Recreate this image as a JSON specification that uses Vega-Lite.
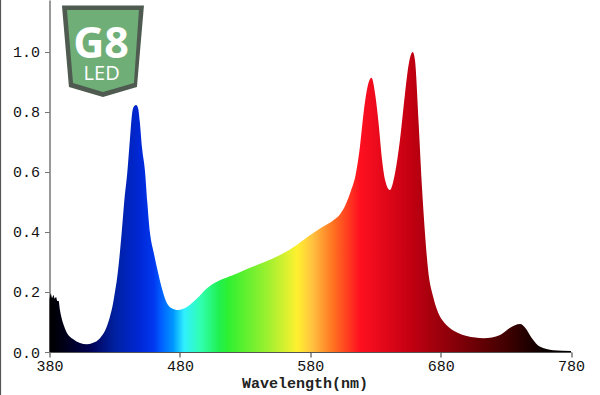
{
"$schema":"https://vega.github.io/schema/vega-lite/v6.json",
"width":521.5,"height":352,
"autosize":{"type":"none"},
"padding":{"left":49.5,"top":0,"right":29,"bottom":43},
"background":"white",
"config":{"view":{"stroke":null}},
"datasets":{
"spectrum":[
{"nm":380,"v":0.175},{"nm":381,"v":0.195},{"nm":382,"v":0.18},{"nm":383,"v":0.19},{"nm":384,"v":0.178},{"nm":385,"v":0.183},{"nm":386,"v":0.17},{"nm":387,"v":0.17},{"nm":388,"v":0.14},{"nm":389,"v":0.118},{"nm":391,"v":0.088},{"nm":393,"v":0.067},{"nm":398,"v":0.043},{"nm":403.4,"v":0.03},{"nm":408.6,"v":0.026},{"nm":413,"v":0.03},{"nm":418.7,"v":0.046},{"nm":423.9,"v":0.084},{"nm":426.4,"v":0.118},{"nm":428.8,"v":0.163},{"nm":430.2,"v":0.2},{"nm":431.5,"v":0.235},{"nm":433.5,"v":0.31},{"nm":435.4,"v":0.4},{"nm":437.5,"v":0.51},{"nm":439.7,"v":0.6},{"nm":441.7,"v":0.71},{"nm":443.5,"v":0.8},{"nm":445,"v":0.82},{"nm":446.4,"v":0.823},{"nm":448,"v":0.812},{"nm":449.2,"v":0.77},{"nm":451,"v":0.68},{"nm":453.3,"v":0.6},{"nm":455,"v":0.5},{"nm":457,"v":0.4},{"nm":460,"v":0.33},{"nm":463,"v":0.27},{"nm":467,"v":0.2},{"nm":470,"v":0.163},{"nm":473.7,"v":0.146},{"nm":478.7,"v":0.14},{"nm":482,"v":0.143},{"nm":486,"v":0.152},{"nm":493,"v":0.178},{"nm":500.6,"v":0.212},{"nm":511,"v":0.24},{"nm":520,"v":0.255},{"nm":531,"v":0.276},{"nm":544,"v":0.298},{"nm":556.8,"v":0.323},{"nm":569.6,"v":0.357},{"nm":582,"v":0.396},{"nm":590,"v":0.418},{"nm":598,"v":0.44},{"nm":603,"v":0.46},{"nm":607,"v":0.49},{"nm":611,"v":0.535},{"nm":615,"v":0.595},{"nm":618,"v":0.68},{"nm":621,"v":0.8},{"nm":624,"v":0.885},{"nm":627,"v":0.914},{"nm":629.7,"v":0.862},{"nm":632.4,"v":0.763},{"nm":634.8,"v":0.651},{"nm":637.4,"v":0.573},{"nm":641,"v":0.54},{"nm":645,"v":0.596},{"nm":648.8,"v":0.707},{"nm":652.7,"v":0.862},{"nm":655.7,"v":0.963},{"nm":658.6,"v":1.0},{"nm":660.3,"v":0.973},{"nm":663,"v":0.773},{"nm":665.5,"v":0.563},{"nm":668,"v":0.396},{"nm":670.4,"v":0.273},{"nm":674.3,"v":0.184},{"nm":679.5,"v":0.118},{"nm":683,"v":0.097},{"nm":687,"v":0.08},{"nm":693,"v":0.064},{"nm":700,"v":0.053},{"nm":713,"v":0.046},{"nm":725.6,"v":0.057},{"nm":733,"v":0.08},{"nm":741,"v":0.093},{"nm":745,"v":0.08},{"nm":750,"v":0.046},{"nm":756,"v":0.018},{"nm":766.4,"v":0.006},{"nm":780,"v":0.003}
],
"logo":[{"nm":421,"v":1.0067}],
"logoText":[{"nm":419.5,"v":0.98,"t":"G8"}],
"logoSub":[{"nm":420,"v":0.907,"t":"LED"}],
"edge":[{"nm":342.3,"v":-0.15,"v2":1.1733}]
},
"encoding":{
  "x":{"field":"nm","type":"quantitative","scale":{"domain":[380,780],"nice":false,"zero":false},
   "axis":{"values":[380,480,580,680,780],"title":"Wavelength(nm)","titleX":255,"titleAnchor":"middle","format":"d","grid":false,"labelFont":"Liberation Mono","labelFontSize":15,"labelColor":"#111111","labelPadding":1,"titleFont":"Liberation Mono","titleFontSize":15,"titleFontWeight":"bold","titleColor":"#222222","titlePadding":2,"domainColor":"#555555","tickColor":"#333333","tickSize":5,"labelOverlap":false,"labelFlush":false}},
  "y":{"field":"v","type":"quantitative","scale":{"domain":[0,1.1733],"nice":false},
   "axis":{"values":[0,0.2,0.4,0.6,0.8,1.0],"format":".1f","title":null,"grid":false,"labelFont":"Liberation Mono","labelFontSize":15,"labelColor":"#111111","labelPadding":5,"domainColor":"#777777","domainWidth":1.5,"tickColor":"#777777","tickSize":5}}
},
"layer":[
{"data":{"name":"spectrum"},
 "mark":{"type":"area","interpolate":"monotone","color":{"gradient":"linear","x1":0,"x2":1,"y1":0,"y2":0,"stops":[
 {"offset":0,"color":"#000000"},{"offset":0.025,"color":"#000014"},{"offset":0.075,"color":"#000050"},{"offset":0.125,"color":"#0020a0"},{"offset":0.175,"color":"#0028d8"},{"offset":0.2,"color":"#0038f0"},{"offset":0.215,"color":"#0060ff"},{"offset":0.2375,"color":"#0098ff"},{"offset":0.258,"color":"#30f0ff"},{"offset":0.29,"color":"#30ffb0"},{"offset":0.325,"color":"#20f050"},{"offset":0.344,"color":"#30f030"},{"offset":0.42,"color":"#a0f030"},{"offset":0.475,"color":"#fff030"},{"offset":0.505,"color":"#ffc040"},{"offset":0.545,"color":"#ff7020"},{"offset":0.595,"color":"#ff1020"},{"offset":0.69,"color":"#c40012"},{"offset":0.74,"color":"#a0000c"},{"offset":0.787,"color":"#800008"},{"offset":0.883,"color":"#3c0000"},{"offset":0.915,"color":"#220000"},{"offset":0.95,"color":"#0a0000"},{"offset":1,"color":"#000000"}]}}},
{"data":{"name":"edge"},"mark":{"type":"rule","color":"#555555","strokeWidth":1.5},"encoding":{"y2":{"field":"v2"}}},
{"data":{"name":"logo"},"mark":{"type":"point","filled":true,"opacity":1,"color":"#4f5a50","size":6724,"shape":"M -1 -1.085 L 1 -1.085 L 0.829 0.902 L 0 1.146 L -0.829 0.902 Z"}},
{"data":{"name":"logo"},"mark":{"type":"point","filled":true,"opacity":1,"color":"#70ae78","size":6724,"shape":"M -0.878 -0.976 L 0.878 -0.976 L 0.756 0.805 L 0 1.024 L -0.73 0.805 Z"}},
{"data":{"name":"logoText"},"mark":{"type":"text","font":"Open Sans","fontWeight":"bold","fontSize":43,"color":"white","baseline":"alphabetic","align":"center"},
 "encoding":{"text":{"field":"t"}}},
{"data":{"name":"logoSub"},"mark":{"type":"text","font":"Open Sans","fontSize":20,"color":"white","baseline":"alphabetic","align":"center"},
 "encoding":{"text":{"field":"t"}}}
]
}
